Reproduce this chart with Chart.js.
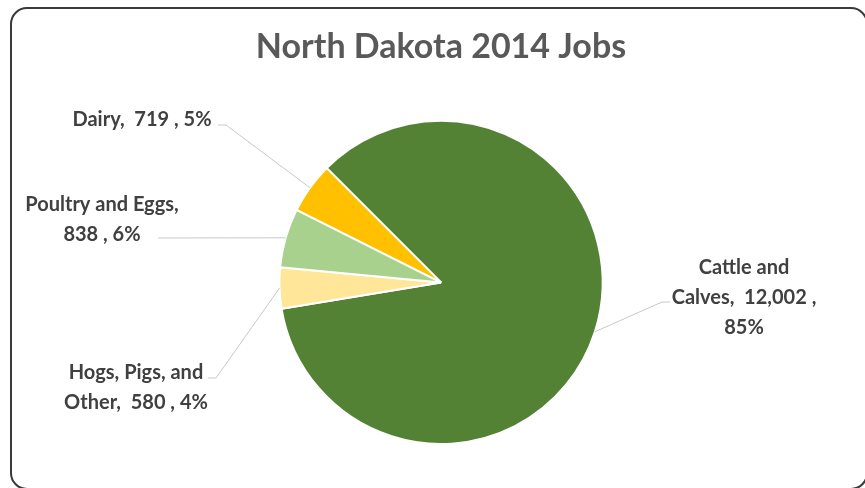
<!DOCTYPE html>
<html>
<head>
<meta charset="utf-8">
<script src="https://cdn.jsdelivr.net/npm/chart.js@4/dist/chart.umd.min.js"></script>
<style>
  html, body { margin: 0; padding: 0; background: #fff; }
  #wrap { width: 865px; height: 488px; position: relative; }
</style>
</head>
<body>
<div id="wrap"><canvas id="jobs"></canvas></div>
<script>
// jobs by livestock sector, North Dakota 2014
var sectors = ['Cattle and Calves', 'Hogs, Pigs, and Other', 'Poultry and Eggs', 'Dairy'];
var jobs = [12002, 580, 838, 719];
var sliceColors = ['#548235', '#ffe699', '#a9d18e', '#ffc000'];

// where each label block sits: text lines, centre x, first line y, and the elbow of its leader
var labelLayout = [
    { lines: ['Cattle and', 'Calves,  {v} ,', '{p}'], x: 744, y: 268, elbow: [662, 302], tail: 8 },
    { lines: ['Hogs, Pigs, and', 'Other,  {v} , {p}'], x: 136, y: 373, elbow: [216, 378], tail: -8 },
    { lines: ['Poultry and Eggs,', '{v} , {p}'], x: 102, y: 205, elbow: [158, 238], tail: 0 },
    { lines: ['Dairy,  {v} , {p}'], x: 142, y: 120, elbow: [226, 125], tail: -8 }
];

var labelFont = 'bold 20px Lato, "Open Sans", sans-serif';

var leaderLabels = {
    id: 'leaderLabels',
    afterDatasetsDraw: function(chart) {
        var ctx = chart.ctx;
        var meta = chart.getDatasetMeta(0);
        var data = chart.data.datasets[0].data;
        var total = data.reduce(function(a, b) { return a + b; }, 0);
        ctx.save();
        meta.data.forEach(function(arc, i) {
            var lay = labelLayout[i];
            var mid = (arc.startAngle + arc.endAngle) / 2;
            var ax = arc.x + Math.cos(mid) * arc.outerRadius;
            var ay = arc.y + Math.sin(mid) * arc.outerRadius;
            // leader line: slice edge -> elbow -> short tail to the text
            ctx.strokeStyle = '#c8c8c8';
            ctx.lineWidth = 1;
            ctx.beginPath();
            ctx.moveTo(ax, ay);
            ctx.lineTo(lay.elbow[0], lay.elbow[1]);
            ctx.lineTo(lay.elbow[0] + lay.tail, lay.elbow[1]);
            ctx.stroke();

            var pct = Math.round(data[i] / total * 100) + '%';
            var val = data[i].toLocaleString('en-US');
            ctx.fillStyle = '#404040';
            ctx.font = labelFont;
            ctx.textAlign = 'center';
            ctx.textBaseline = 'middle';
            lay.lines.forEach(function(t, k) {
                ctx.fillText(t.replace('{v}', val).replace('{p}', pct), lay.x, lay.y + k * 30);
            });
        });
        ctx.restore();
    }
};

// rounded outline around the whole chart (right and bottom edges run off the canvas)
var frame = {
    id: 'frame',
    afterDraw: function(chart) {
        var ctx = chart.ctx;
        ctx.save();
        ctx.strokeStyle = '#3a3a3a';
        ctx.lineWidth = 2;
        ctx.beginPath();
        ctx.roundRect(11, 8, 856, 481, 16);
        ctx.stroke();
        ctx.restore();
    }
};

new Chart(document.getElementById('jobs').getContext('2d'), {
    type: 'pie',
    data: {
        labels: sectors,
        datasets: [{
            data: jobs,
            backgroundColor: sliceColors,
            borderColor: '#ffffff',
            borderWidth: 2
        }]
    },
    options: {
        responsive: true,
        maintainAspectRatio: false,
        animation: false,
        rotation: -45,
        layout: {
            padding: { top: 0, bottom: 43, left: 200, right: 183 }
        },
        plugins: {
            legend: { display: false },
            tooltip: { enabled: false },
            title: {
                display: true,
                text: 'North Dakota 2014 Jobs',
                color: '#595959',
                font: { family: 'Lato, "Open Sans", sans-serif', size: 34, weight: 'bold', lineHeight: 1.2 },
                padding: { top: 27, bottom: 52 }
            }
        }
    },
    plugins: [leaderLabels, frame]
});
</script>
</body>
</html>
